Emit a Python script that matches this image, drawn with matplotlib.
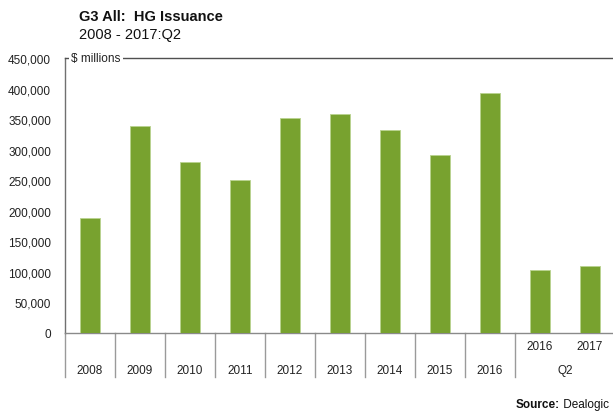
import matplotlib
matplotlib.use("Agg")
import matplotlib.pyplot as plt
from matplotlib.transforms import blended_transform_factory

plt.rcParams['font.family'] = ['Liberation Sans', 'DejaVu Sans']

categories = ['2008', '2009', '2010', '2011', '2012', '2013', '2014', '2015', '2016', '2016', '2017']
group_labels = ['2008', '2009', '2010', '2011', '2012', '2013', '2014', '2015', '2016', 'Q2']
values = [187500, 338300, 279300, 250300, 351900, 358500, 331700, 291200, 392400, 103300, 109800]
yticks = [0, 50000, 100000, 150000, 200000, 250000, 300000, 350000, 400000, 450000]

W, H = 613, 414
fig = plt.figure(figsize=(W / 100, H / 100), dpi=100)
ax_left, ax_right, ax_top, ax_bot = 65, 613, 59, 333.7
ax = fig.add_axes([ax_left / W, (H - ax_bot) / H, (ax_right - ax_left) / W, (ax_bot - ax_top) / H])

x = list(range(len(values)))
ax.bar(x, values, width=0.4, color='#78A22F', edgecolor='#b9d38f', linewidth=0.6, zorder=3)

slot = 50.0
ax.set_xlim(-0.5, -0.5 + (ax_right - ax_left) / slot)
ax.set_ylim(0, 450000)
ax.set_yticks(yticks)
ax.set_yticklabels([f"{v:,}" for v in yticks], fontsize=8.5, color='#222222')
ax.tick_params(axis='y', length=0, pad=10)
ax.set_xticks([])

ax.spines['right'].set_visible(False)
ax.spines['left'].set_color('#707070')
ax.spines['left'].set_linewidth(1.0)
ax.spines['bottom'].set_color('#8a8a8a')
ax.spines['bottom'].set_linewidth(1.0)
ax.spines['top'].set_color('#505050')
ax.spines['top'].set_linewidth(1.0)

# "$ millions" label interrupting the top line
ax.text(-0.5 + 6 / slot, 450000, '$ millions', fontsize=8.5, color='#222222',
        ha='left', va='center', zorder=5,
        bbox=dict(facecolor='white', edgecolor='none', pad=1.5))

trans = blended_transform_factory(ax.transData, ax.transAxes)
axh = ax_bot - ax_top

def ypos(py):
    return (ax_bot - py) / axh

# separators
n_main = 9
for i in range(n_main + 1):
    ax.plot([i - 0.5, i - 0.5], [0, ypos(378)], transform=trans, color='#9a9a9a',
            linewidth=1.0, clip_on=False)

# inner labels for Q2 group
for i in range(n_main, len(categories)):
    ax.text(i, ypos(347), categories[i], transform=trans, ha='center', va='center',
            fontsize=8.5, color='#222222')

# outer labels
for i in range(n_main):
    ax.text(i, ypos(371), group_labels[i], transform=trans, ha='center', va='center',
            fontsize=8.5, color='#222222')
ax.text((n_main + len(categories) - 1) / 2, ypos(371), group_labels[-1], transform=trans,
        ha='center', va='center', fontsize=8.5, color='#222222')

# titles
fig.text(79 / W, 1 - 17 / H, 'G3 All:  HG Issuance', fontsize=10.5, fontweight='bold',
         ha='left', va='center', color='#111111')
fig.text(79 / W, 1 - 35 / H, '2008 - 2017:Q2', fontsize=10.5, ha='left', va='center',
         color='#111111')

# source
dl = fig.text(609 / W, 1 - 405 / H, ' Dealogic', fontsize=8.5, ha='right', va='center',
              color='#111111')
fig.canvas.draw()
r = dl.get_window_extent()
fig.text(r.x0 / W, 1 - 405 / H, 'Source:', fontsize=8.5, fontweight='bold', ha='right',
         va='center', color='#111111')

fig.savefig('out.png', dpi=100)
